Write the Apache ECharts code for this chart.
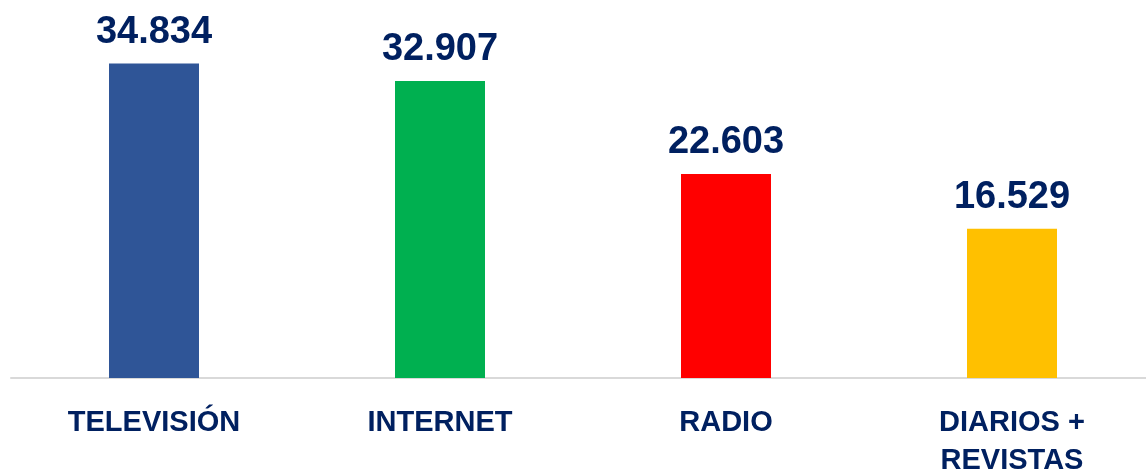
<!DOCTYPE html>
<html>
<head>
<meta charset="utf-8">
<script src="https://cdn.jsdelivr.net/npm/echarts@6/dist/echarts.min.js"></script>
<style>
	html, body { margin: 0; padding: 0; background: #fff; }
	#chart { width: 1146px; height: 471px; }
</style>
</head>
<body>
<div id="chart"></div>
<script>
	// datos
	const categorias = ['TELEVISIÓN', 'INTERNET', 'RADIO', 'DIARIOS +\nREVISTAS'];
	const valores = [34834, 32907, 22603, 16529];
	const colores = ['#2F5597', '#00B050', '#FF0000', '#FFC000'];

	const textColor = '#002060';

	// 34834 -> "34.834"
	function formatoMiles(v) {
		return String(v).replace(/\B(?=(\d{3})+(?!\d))/g, '.');
	}

	const myChart = echarts.init(document.getElementById('chart'));
	const option = {
		animation: false,
		grid: {
			left: 11,
			width: 1144,
			top: 17,
			bottom: 93,
			outerBoundsMode: 'none',
			containLabel: false
		},
		xAxis: {
			type: 'category',
			data: categorias,
			axisLine: {
				show: true,
				lineStyle: { color: '#D9D9D9', width: 2 }
			},
			axisTick: { show: false },
			axisLabel: {
				interval: 0,
				margin: 26,
				color: textColor,
				fontFamily: 'Liberation Sans',
				fontWeight: 'bold',
				fontSize: 29,
				lineHeight: 38,
				verticalAlign: 'top'
			}
		},
		yAxis: {
			type: 'value',
			min: 0,
			max: 40000,
			show: false,
			splitLine: { show: false }
		},
		series: [{
			type: 'bar',
			barWidth: 90,
			data: valores.map((v, i) => ({
				value: v,
				itemStyle: { color: colores[i] }
			})),
			label: {
				show: true,
				position: 'top',
				distance: 12,
				color: textColor,
				fontFamily: 'Liberation Sans',
				fontWeight: 'bold',
				fontSize: 38,
				formatter: (p) => formatoMiles(p.value)
			}
		}]
	};
	myChart.setOption(option);
</script>
</body>
</html>
